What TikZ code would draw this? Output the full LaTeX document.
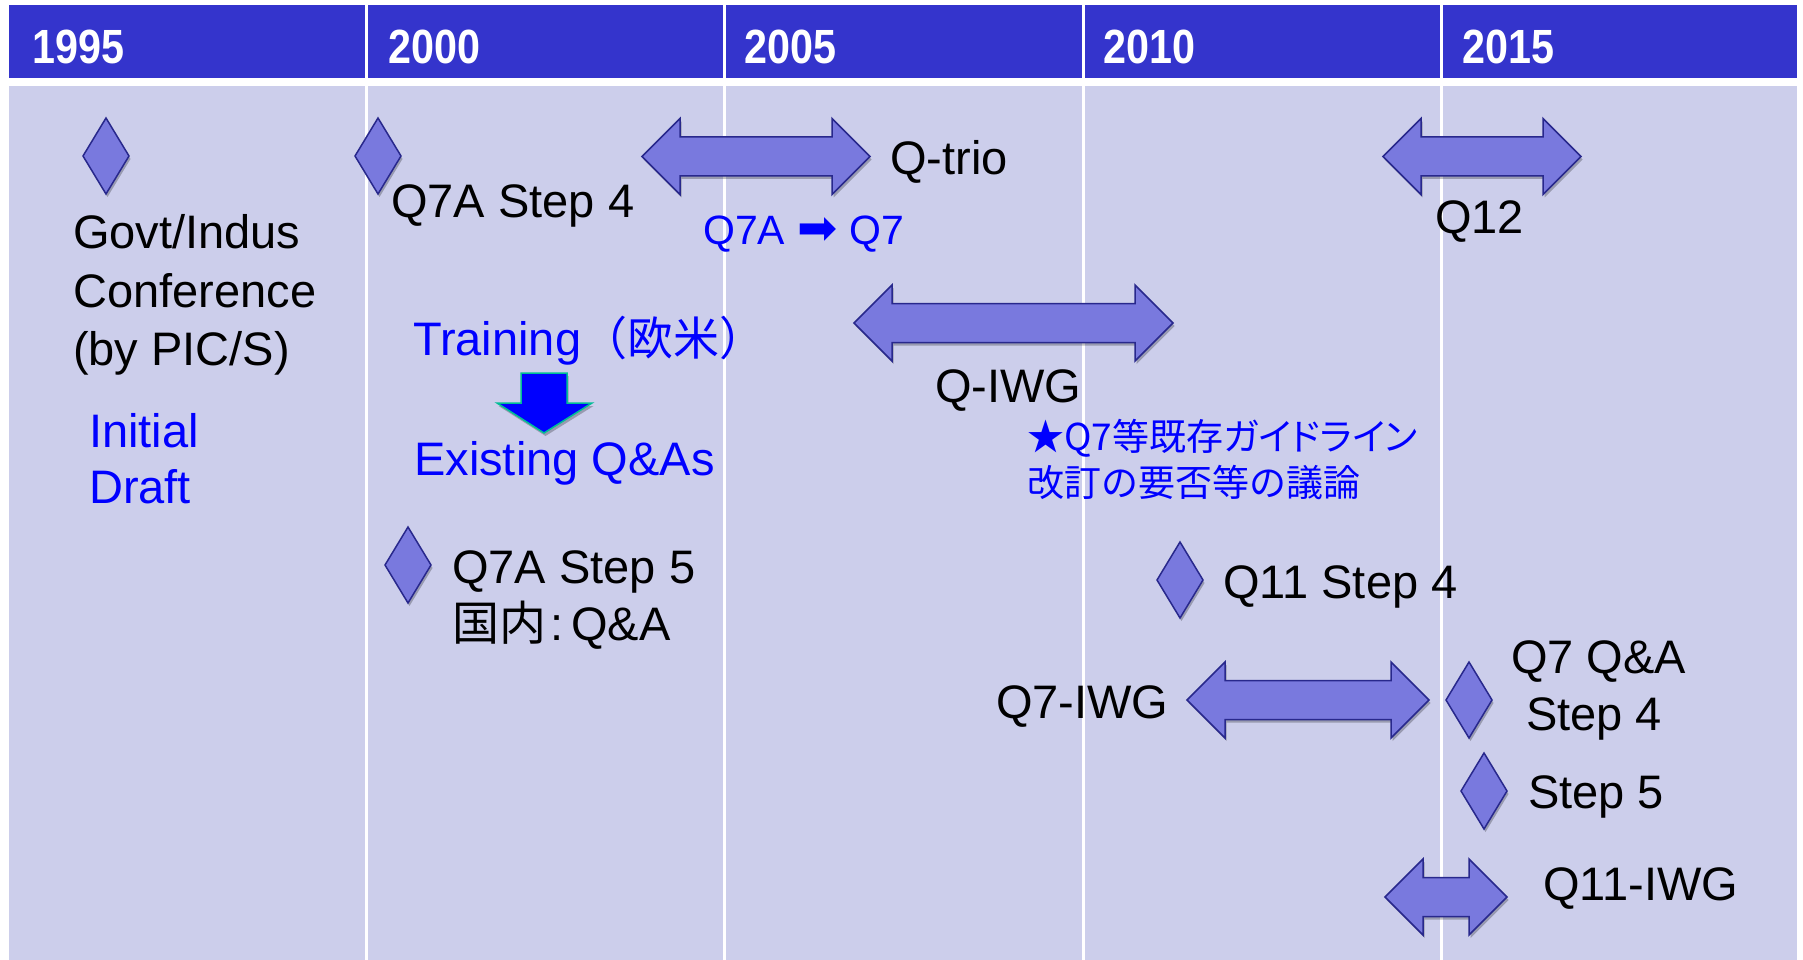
\documentclass[tikz,border=0pt]{standalone}
\usepackage{fontspec}
\setmainfont{Liberation Sans}
\newfontfamily\jp{Noto Sans CJK JP}
\newfontfamily\jphalt[RawFeature=+halt]{Noto Sans CJK JP}
\newfontfamily\jppalt[RawFeature=+palt]{Noto Sans CJK JP}
\newfontfamily\dvs{DejaVu Sans}
\usetikzlibrary{shadows}
\definecolor{hdr}{RGB}{52,52,204}
\definecolor{cell}{RGB}{204,206,235}
\definecolor{shp}{RGB}{121,121,222}
\definecolor{shpline}{RGB}{40,40,140}
\definecolor{txtblue}{RGB}{0,0,255}
\definecolor{arrline}{RGB}{0,190,150}
\newcommand\dblarrow[3]{\path[shapefill] (#1,#3) -- ++(38,-38) -- ++(0,18.5) -- (#2-38,#3-19.5) -- ++(0,-18.5) -- (#2,#3) -- ++(-38,38) -- ++(0,-18.5) -- (#1+38,#3+19.5) -- ++(0,18.5) -- cycle;}
\begin{document}
\begin{tikzpicture}[x=1pt,y=-1pt,
  yearlbl/.style={anchor=base west, inner sep=0pt, text=white, font=\bfseries\fontsize{48}{48}\selectfont},
  lbl/.style={anchor=base west, inner sep=0pt, font=\fontsize{47}{56}\selectfont},
  bluelbl/.style={lbl, text=txtblue},
  jplbl/.style={anchor=base west, inner sep=0pt, text=txtblue, font=\jp\fontsize{37}{44}\selectfont},
  shapefill/.style={fill=shp, draw=shpline, line width=1.5pt, line join=miter,
    drop shadow={shadow xshift=1.5pt, shadow yshift=-3pt, opacity=0.25, fill=black}},
  diam/.pic={\path[shapefill] (0,-38) -- (23,0) -- (0,38) -- (-23,0) -- cycle;},
]
\useasboundingbox (0,0) rectangle (1803,960);
\fill[white] (0,0) rectangle (1803,960);
% table
\fill[hdr] (9,5) rectangle (1797,78);
\fill[cell] (9,86) rectangle (1797,960);
\foreach \xx in {366,724,1083,1441}{\draw[white, line width=3pt] (\xx,5) -- (\xx,960);}
% years
\node[yearlbl] (y1995) at (32,64) {\scalebox{0.86}[1]{1995}};
\node[yearlbl] (y2000) at (388,64) {\scalebox{0.86}[1]{2000}};
\node[yearlbl] (y2005) at (744,64) {\scalebox{0.86}[1]{2005}};
\node[yearlbl] (y2010) at (1103,64) {\scalebox{0.86}[1]{2010}};
\node[yearlbl] (y2015) at (1462,64) {\scalebox{0.86}[1]{2015}};
% diamonds
\pic (d1) at (106,156) {diam};
\pic (d2) at (378,156) {diam};
\pic (d3) at (408,565) {diam};
\pic (d4) at (1180,580) {diam};
\pic (d5) at (1469,700) {diam};
\pic (d6) at (1484,791) {diam};
% double arrows
\dblarrow{642}{870}{156.5}
\dblarrow{854}{1173}{323}
\dblarrow{1383}{1581}{156.5}
\dblarrow{1187}{1429}{700}
\dblarrow{1385}{1507}{897}
% down arrow
\path[fill=txtblue, draw=arrline, line width=1.5pt, line join=miter,
  drop shadow={shadow xshift=1.5pt, shadow yshift=-3pt, opacity=0.25, fill=black}]
  (521,373) -- (567,373) -- (567,403) -- (592,403) -- (544,433) -- (497,403) -- (521,403) -- cycle;
% labels
\node[lbl] (govt) at (73,248) {Govt/Indus};
\node[lbl] (conf) at (73,307) {Conference};
\node[lbl] (pics) at (73,365) {(by PIC/S)};
\node[bluelbl] (init) at (89,447) {Initial};
\node[bluelbl] (draft) at (89,503) {Draft};
\node[lbl] (q7a4) at (391,217) {Q7A Step 4};
\node[lbl] (qtrio) at (890,175) {Q-trio};
\node[anchor=base west, inner sep=0pt, text=txtblue, font=\fontsize{41}{41}\selectfont] (q7aq7) at (703,244) {Q7A\hspace{12pt}{\dvs\fontsize{48}{48}\selectfont ➡}\hspace{12pt}Q7};
\node[lbl] (q12) at (1435,233) {Q12};
\node[bluelbl] (train) at (413,355) {Training{\jp\fontsize{46}{46}\selectfont （欧米{\jphalt ）}}};
\node[bluelbl] (exist) at (414,475) {Existing Q\&As};
\node[lbl] (qiwg) at (935,402) {Q-IWG};
\node[jplbl] (jp1) at (1027,450) {★Q7等既存{\jppalt ガイドライン}};
\node[jplbl] (jp2) at (1027,496) {改訂の要否等の議論};
\node[lbl] (q7a5) at (452,583) {Q7A Step 5};
\node[lbl] (kokunai) at (452,640) {{\jp 国内}\hspace{4pt}:\hspace{8pt}Q\&A};
\node[lbl] (q11s4) at (1223,598) {Q11 Step 4};
\node[lbl] (q7iwg) at (996,718) {Q7-IWG};
\node[lbl] (q7qa) at (1511,673) {Q7 Q\&A};
\node[lbl] (s4) at (1526,730) {Step 4};
\node[lbl] (s5) at (1528,808) {Step 5};
\node[lbl] (q11iwg) at (1543,900) {Q11-IWG};
\end{tikzpicture}
\end{document}
